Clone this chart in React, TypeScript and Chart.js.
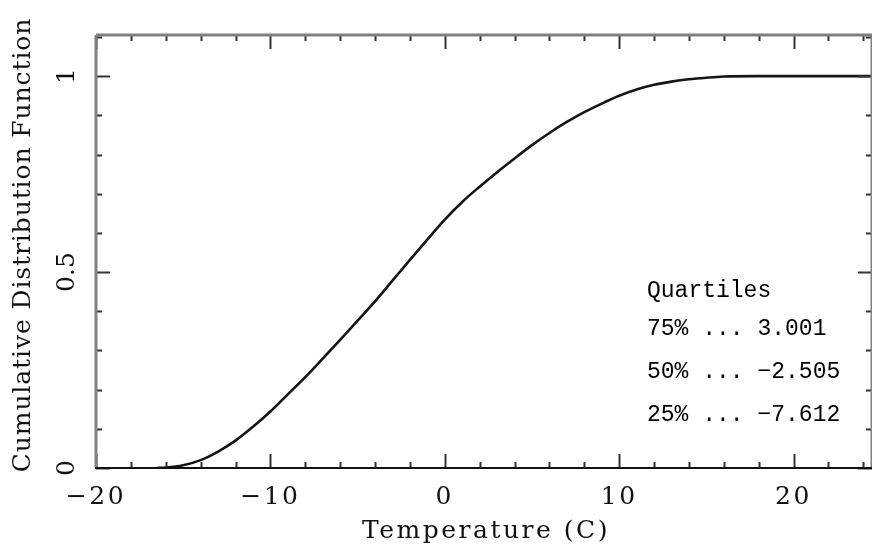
import React, { useEffect, useRef } from "react";
import { Chart, registerables } from "chart.js";

Chart.register(...registerables);

// Temperature (C) values along the curve
const temps = [
  -16.5, -16, -15, -14, -13, -12, -11, -10, -9, -8, -7, -6, -5, -4, -3, -2, -1,
  0, 1, 2, 3, 4, 5, 6, 7, 8, 9, 10, 11, 12, 13, 14, 15, 16, 17.8, 24.5,
];
// Cumulative distribution function values
const cdf = [
  0.0, 0.001, 0.007, 0.02, 0.042, 0.07, 0.105, 0.144, 0.188, 0.232, 0.279,
  0.327, 0.376, 0.425, 0.478, 0.531, 0.583, 0.634, 0.679, 0.718, 0.755, 0.79,
  0.824, 0.855, 0.883, 0.908, 0.93, 0.95, 0.966, 0.978, 0.986, 0.992, 0.996,
  0.999, 1.0, 1.0,
];

const xMajorValues = [-20, -10, 0, 10, 20];
const xMajorLabels = ["\u221220", "\u221210", "0", "10", "20"];
const yMajorValues = [0, 0.5, 1];
const yMajorLabels = ["0", "0.5", "1"];

const xTitle = "Temperature (C)";
const yTitle = "Cumulative Distribution Function";

const quartileTitle = "Quartiles";
const quartileNames = ["75%", "50%", "25%"];
const quartileValues = ["3.001", "\u22122.505", "\u22127.612"];

const SERIF = "'DejaVu Serif', serif";
const MONO = "'Liberation Mono', monospace";

const near = (a: number, b: number) => Math.abs(a - b) < 1e-6;

const spacingPlugin = {
  id: "spacing",
  beforeDraw(chart: any) {
    (chart.ctx as any).letterSpacing = "2.5px";
  },
  beforeDatasetsDraw(chart: any) {
    (chart.ctx as any).letterSpacing = "0px";
  },
};

const framePlugin = {
  id: "frame",
  afterDraw(chart: any) {
    const { ctx, chartArea: a, scales } = chart;
    const x = scales.x;
    const y = scales.y;
    ctx.save();
    (ctx as any).letterSpacing = "0px";

    const line = (x1: number, y1: number, x2: number, y2: number) => {
      ctx.beginPath();
      ctx.moveTo(x1, y1);
      ctx.lineTo(x2, y2);
      ctx.stroke();
    };

    // inward tick marks
    ctx.strokeStyle = "#333";
    ctx.lineWidth = 2;
    x.ticks.forEach((t: any) => {
      const px = Math.round(x.getPixelForValue(t.value)) + 0.5;
      const major = xMajorValues.some((v) => near(v, t.value));
      const len = major ? 14 : 6;
      line(px, a.bottom, px, a.bottom - len);
      line(px, a.top, px, a.top + len);
    });
    y.ticks.forEach((t: any) => {
      const py = Math.round(y.getPixelForValue(t.value)) + 0.5;
      const major = yMajorValues.some((v) => near(v, t.value));
      const len = major ? 14 : 6;
      line(a.left, py, a.left + len, py);
      line(a.right, py, a.right - len, py);
    });

    // frame
    ctx.strokeStyle = "#808080";
    ctx.lineWidth = 3;
    line(a.left, a.top, a.right, a.top);
    line(a.left, a.top, a.left, a.bottom);
    line(a.right, a.top, a.right, a.bottom);
    ctx.strokeStyle = "#111";
    ctx.lineWidth = 2;
    line(a.left - 1, a.bottom, a.right, a.bottom);

    // rotated y tick labels
    ctx.fillStyle = "#111";
    ctx.font = `25px ${SERIF}`;
    ctx.textAlign = "center";
    ctx.textBaseline = "middle";
    yMajorValues.forEach((v, i) => {
      const py = y.getPixelForValue(v);
      ctx.save();
      ctx.translate(a.left - 29, py);
      ctx.rotate(-Math.PI / 2);
      ctx.fillText(yMajorLabels[i], 0, 0);
      ctx.restore();
    });

    // axis titles
    ctx.textBaseline = "alphabetic";
    ctx.textAlign = "center";
    (ctx as any).letterSpacing = "2.5px";
    ctx.fillText(xTitle, (a.left + a.right) / 2 + 2, 538);
    ctx.save();
    (ctx as any).letterSpacing = "0.9px";
    ctx.translate(30, 245);
    ctx.rotate(-Math.PI / 2);
    ctx.fillText(yTitle, 0, 0);
    ctx.restore();
    (ctx as any).letterSpacing = "0px";

    // quartiles annotation
    ctx.font = `23px ${MONO}`;
    ctx.fillStyle = "#000";
    ctx.textAlign = "left";
    ctx.textBaseline = "alphabetic";
    const tx = a.left + 551;
    ctx.fillText(quartileTitle, tx, 297);
    quartileNames.forEach((n, i) => {
      ctx.fillText(`${n} ... ${quartileValues[i]}`, tx, 335 + i * 43);
    });

    ctx.restore();
  },
};

export default function App() {
  const ref = useRef<HTMLCanvasElement | null>(null);

  useEffect(() => {
    if (!ref.current) return;
    const chart = new Chart(ref.current, {
      type: "line",
      data: {
        datasets: [
          {
            data: temps.map((t, i) => ({ x: t, y: cdf[i] })),
            borderColor: "#151515",
            borderWidth: 2.6,
            pointRadius: 0,
            cubicInterpolationMode: "monotone",
            fill: false,
          },
        ],
      },
      options: {
        responsive: false,
        animation: false,
        maintainAspectRatio: false,
        layout: { padding: { top: 35, left: 0, right: 0, bottom: 0 } },
        plugins: {
          legend: { display: false },
          tooltip: { enabled: false },
        },
        scales: {
          x: {
            type: "linear",
            min: -20,
            max: 24.5,
            grid: { display: false, drawTicks: false },
            border: { display: false },
            ticks: {
              stepSize: 2,
              includeBounds: false,
              autoSkip: false,
              maxRotation: 0,
              minRotation: 0,
              padding: 14,
              color: "#111",
              font: { family: SERIF, size: 25 },
              callback: (v: any) => {
                const i = xMajorValues.findIndex((m) => near(m, Number(v)));
                return i >= 0 ? xMajorLabels[i] : "";
              },
            },
            title: { display: false },
            afterFit: (s: any) => {
              s.height = 82;
              s.paddingLeft = 0;
              s.paddingRight = 0;
            },
          },
          y: {
            type: "linear",
            min: 0,
            max: 1.105,
            grid: { display: false, drawTicks: false },
            border: { display: false },
            ticks: {
              display: false,
              stepSize: 0.1,
              includeBounds: false,
            },
            title: { display: false },
            afterFit: (s: any) => {
              s.width = 96;
              s.paddingTop = 0;
              s.paddingBottom = 0;
            },
          },
        },
      },
      plugins: [spacingPlugin, framePlugin],
    } as any);
    return () => chart.destroy();
  }, []);

  return (
    <div style={{ position: "absolute", left: 0, top: 0, width: 872, height: 550, background: "#fff" }}>
      <canvas ref={ref} width={872} height={550} />
    </div>
  );
}
